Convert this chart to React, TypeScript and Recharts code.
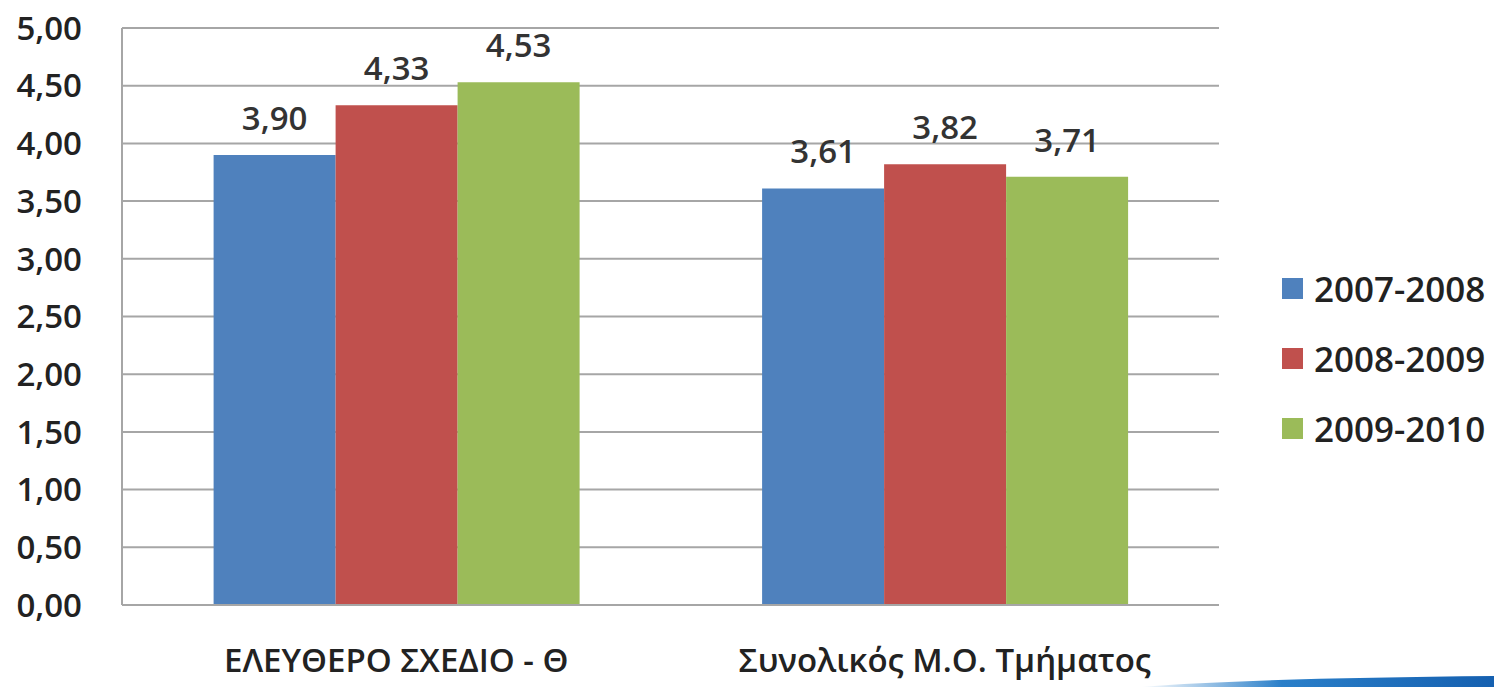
import React from 'react';
import { BarChart, Bar, XAxis, YAxis, CartesianGrid, LabelList } from 'recharts';

const categories = ['ΕΛΕΥΘΕΡΟ ΣΧΕΔΙΟ - Θ', 'Συνολικός Μ.Ο. Τμήματος'];
const series2007 = [3.9, 3.61];
const series2008 = [4.33, 3.82];
const series2009 = [4.53, 3.71];
const seriesNames = ['2007-2008', '2008-2009', '2009-2010'];
const yTicks = [0, 0.5, 1, 1.5, 2, 2.5, 3, 3.5, 4, 4.5, 5];

const colors = ['#4f81bd', '#c0504d', '#9bbb59'];
const font = '"Open Sans", "DejaVu Sans", sans-serif';

const data = categories.map((name, i) => ({
  name,
  s1: series2007[i],
  s2: series2008[i],
  s3: series2009[i],
}));

const fmt = (v: number) => v.toFixed(2).replace('.', ',');

// legend drawn outside the chart so it does not shrink the plot area
const LegendBox = () => (
  <div
    style={{
      position: 'absolute',
      left: 1282,
      top: 253,
      fontFamily: font,
      fontWeight: 600,
      fontSize: 35,
      color: '#222',
    }}
  >
    {seriesNames.map((n, i) => (
      <div key={n} style={{ display: 'flex', alignItems: 'center', height: 70 }}>
        <span style={{ width: 21, height: 21, background: colors[i], marginRight: 11, display: 'inline-block' }} />
        <span>{n}</span>
      </div>
    ))}
  </div>
);

export default function App() {
  const labelStyle = { fontFamily: font, fontWeight: 600, fontSize: 33, fill: '#333' };
  return (
    <div style={{ position: 'absolute', left: 0, top: 0, width: 1494, height: 687, background: '#fff' }}>
      <BarChart
        width={1494}
        height={687}
        data={data}
        margin={{ top: 28, right: 275, bottom: 0, left: 0 }}
        barCategoryGap="16.7%"
        barGap={0}
      >
        <CartesianGrid vertical={false} stroke="#a6a6a6" strokeWidth={2} />
        <XAxis
          dataKey="name"
          height={82}
          stroke="#a6a6a6"
          strokeWidth={2}
          tickLine={false}
          tickMargin={38}
          tick={{ fontFamily: font, fontWeight: 600, fontSize: 33, fill: '#222' }}
        />
        <YAxis
          width={122}
          domain={[0, 5]}
          ticks={yTicks}
          stroke="#a6a6a6"
          strokeWidth={2}
          tickLine={false}
          tickSize={8}
          tickMargin={32}
          tickFormatter={fmt}
          tick={{ fontFamily: font, fontWeight: 600, fontSize: 33, fill: '#222' }}
        />
        <Bar dataKey="s1" name={seriesNames[0]} fill={colors[0]} isAnimationActive={false}>
          <LabelList dataKey="s1" position="top" offset={25} formatter={(v: any) => fmt(Number(v))} style={labelStyle} />
        </Bar>
        <Bar dataKey="s2" name={seriesNames[1]} fill={colors[1]} isAnimationActive={false}>
          <LabelList dataKey="s2" position="top" offset={25} formatter={(v: any) => fmt(Number(v))} style={labelStyle} />
        </Bar>
        <Bar dataKey="s3" name={seriesNames[2]} fill={colors[2]} isAnimationActive={false}>
          <LabelList dataKey="s3" position="top" offset={25} formatter={(v: any) => fmt(Number(v))} style={labelStyle} />
        </Bar>
      </BarChart>
      <LegendBox />
      <svg style={{ position: 'absolute', left: 1140, top: 672 }} width={354} height={15}>
        <defs>
          <linearGradient id="sw" x1="0" x2="1" y1="0" y2="0">
            <stop offset="0" stopColor="#ffffff" />
            <stop offset="0.4" stopColor="#2a7fc9" />
            <stop offset="1" stopColor="#1560b0" />
          </linearGradient>
        </defs>
        <path d="M0,15 Q120,6 354,4 L354,15 Z" fill="url(#sw)" />
      </svg>
    </div>
  );
}
